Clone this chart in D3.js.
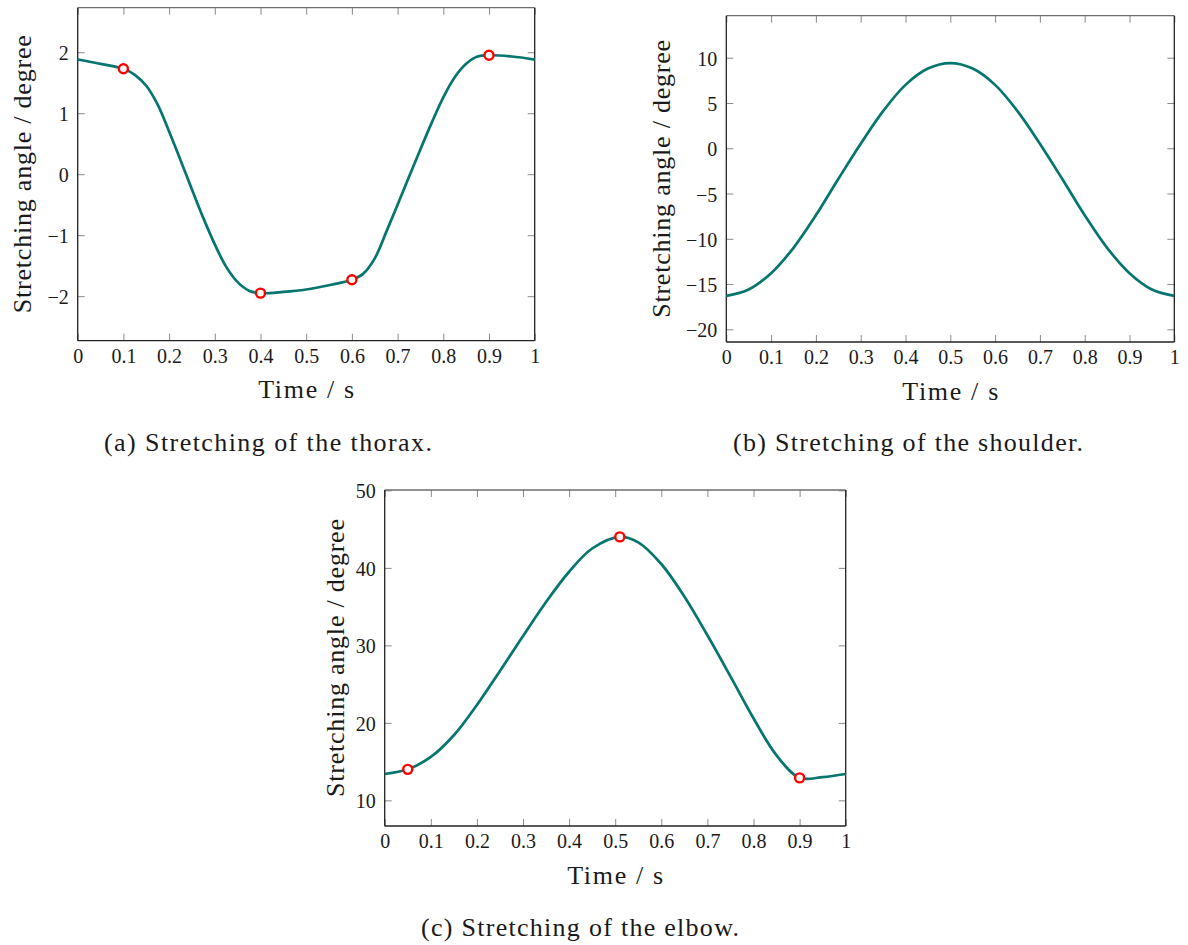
<!DOCTYPE html>
<html>
<head>
<meta charset="utf-8">
<script src="https://cdn.jsdelivr.net/npm/d3@7"></script>
<style>
  html, body { margin: 0; padding: 0; background: #fff; }
  svg { display: block; }
</style>
</head>
<body>
<svg id="chart" width="1188" height="945"></svg>
<script>
// ---------------- data ----------------
const xTickValues = [0, 0.1, 0.2, 0.3, 0.4, 0.5, 0.6, 0.7, 0.8, 0.9, 1];

// (a) thorax
const timeA  = [0, 0.05, 0.1, 0.125, 0.15, 0.175, 0.2, 0.225, 0.25, 0.275, 0.3, 0.325, 0.35, 0.375, 0.4, 0.45, 0.5, 0.55, 0.6, 0.625, 0.65, 0.675, 0.7, 0.725, 0.75, 0.775, 0.8, 0.825, 0.85, 0.875, 0.9, 0.95, 1];
const angleA = [1.88, 1.81, 1.73, 1.63, 1.45, 1.14, 0.70, 0.23, -0.25, -0.72, -1.15, -1.52, -1.77, -1.91, -1.95, -1.93, -1.89, -1.82, -1.73, -1.63, -1.38, -0.95, -0.50, -0.04, 0.41, 0.85, 1.26, 1.59, 1.81, 1.93, 1.95, 1.93, 1.88];
const markTimeA  = [0.1, 0.4, 0.6, 0.9];
const markAngleA = [1.73, -1.95, -1.73, 1.95];
const yTicksA = [-2, -1, 0, 1, 2];

// (b) shoulder
const timeB  = [0, 0.05, 0.1, 0.15, 0.2, 0.25, 0.3, 0.35, 0.4, 0.45, 0.5, 0.55, 0.6, 0.65, 0.7, 0.75, 0.8, 0.85, 0.9, 0.95, 1];
const angleB = [-16.3, -15.6, -13.8, -11.0, -7.4, -3.4, 0.5, 4.1, 7.0, 8.8, 9.4, 8.8, 7.0, 4.1, 0.5, -3.4, -7.4, -11.0, -13.8, -15.6, -16.3];
const yTicksB = [-20, -15, -10, -5, 0, 5, 10];

// (c) elbow
const timeC  = [0, 0.05, 0.1, 0.15, 0.2, 0.25, 0.3, 0.35, 0.4, 0.45, 0.51, 0.55, 0.6, 0.65, 0.7, 0.75, 0.8, 0.85, 0.9, 0.95, 1];
const angleC = [13.4, 14.0, 15.6, 18.4, 22.3, 26.7, 31.2, 35.6, 39.5, 42.5, 44.0, 43.3, 40.5, 36.3, 31.3, 26.0, 20.6, 15.8, 12.9, 13.0, 13.4];
const markTimeC  = [0.05, 0.51, 0.9];
const markAngleC = [14.0, 44.0, 12.9];
const yTicksC = [10, 20, 30, 40, 50];

const xLabel = "Time / s";
const yLabel = "Stretching angle / degree";
const captions = ["(a) Stretching of the thorax.", "(b) Stretching of the shoulder.", "(c) Stretching of the elbow."];

// ---------------- layout ----------------
const FONT = '"Liberation Serif", "DejaVu Serif", serif';
const panels = [
  { t: timeA, v: angleA, mt: markTimeA, mv: markAngleA, yTicks: yTicksA, yDomain: [-2.73, 2.73],
    left: 77.7, right: 534.7, top: 7.7, bottom: 340.7, yLabelX: 30.5, capX: 268, capY: 451, capW: 328, caption: captions[0] },
  { t: timeB, v: angleB, mt: [], mv: [], yTicks: yTicksB, yDomain: [-21.4, 14.64],
    left: 726.3, right: 1174.3, top: 15.7, bottom: 342, yLabelX: 670, capX: 908, capY: 451, capW: 350, caption: captions[1] },
  { t: timeC, v: angleC, mt: markTimeC, mv: markAngleC, yTicks: yTicksC, yDomain: [6.69, 50.05],
    left: 384.7, right: 845.7, top: 490, bottom: 826, yLabelX: 343.5, capX: 580, capY: 936, capW: 318, caption: captions[2] }
];

const svg = d3.select("#chart");
const fmtX = d => (d === 0 ? "0" : d === 1 ? "1" : d.toFixed(1));
const fmtY = d => String(d).replace("-", "\u2212");
const TICK = 7;

panels.forEach(p => {
  const x = d3.scaleLinear().domain([0, 1]).range([p.left, p.right]);
  const y = d3.scaleLinear().domain(p.yDomain).range([p.bottom, p.top]);
  const g = svg.append("g");

  const styleTicks = sel => {
    sel.attr("font-family", null).attr("font-size", null);
    sel.select(".domain").remove();
    sel.selectAll(".tick line").attr("stroke", "#8a8a8a").attr("stroke-width", 1);
  };
  // mirrored inward ticks
  g.append("g").attr("transform", `translate(0,${p.top})`)
    .call(d3.axisTop(x).tickValues(xTickValues).tickSize(-TICK).tickFormat(""))
    .call(styleTicks);
  g.append("g").attr("transform", `translate(${p.right},0)`)
    .call(d3.axisRight(y).tickValues(p.yTicks).tickSize(-TICK).tickFormat(""))
    .call(styleTicks);

  const bx = g.append("g").attr("transform", `translate(0,${p.bottom})`)
    .call(d3.axisBottom(x).tickValues(xTickValues).tickSize(-TICK).tickFormat(fmtX))
    .call(styleTicks);
  bx.selectAll(".tick text")
    .attr("y", 22.3).attr("dy", null)
    .style("font-family", FONT).style("font-size", "20px").attr("fill", "#1a1a1a");

  const ly = g.append("g").attr("transform", `translate(${p.left},0)`)
    .call(d3.axisLeft(y).tickValues(p.yTicks).tickSize(-TICK).tickFormat(fmtY))
    .call(styleTicks);
  ly.selectAll(".tick text")
    .attr("x", -9).attr("dy", "0.38em")
    .style("font-family", FONT).style("font-size", "20px").attr("fill", "#1a1a1a");

  // frame
  const frame = [
    [p.left, p.top, p.right, p.top, "#6e6e6e"],
    [p.left, p.bottom, p.right, p.bottom, "#222"],
    [p.left, p.top, p.left, p.bottom, "#222"],
    [p.right, p.top, p.right, p.bottom, "#222"]
  ];
  frame.forEach(f => g.append("line").attr("x1", f[0]).attr("y1", f[1]).attr("x2", f[2]).attr("y2", f[3])
    .attr("stroke", f[4]).attr("stroke-width", 1.3));

  // curve
  const pts = p.t.map((t, i) => [t, p.v[i]]);
  g.append("path").datum(pts)
    .attr("d", d3.line().x(d => x(d[0])).y(d => y(d[1])).curve(d3.curveCatmullRom.alpha(0.5)))
    .attr("fill", "none").attr("stroke", "#05766f").attr("stroke-width", 2.7)
    .attr("stroke-linejoin", "round");

  // markers
  const mk = p.mt.map((t, i) => [t, p.mv[i]]);
  g.selectAll("circle.mk").data(mk).join("circle").attr("class", "mk")
    .attr("cx", d => x(d[0])).attr("cy", d => y(d[1])).attr("r", 4.5)
    .attr("fill", "#fff").attr("stroke", "#ff0000").attr("stroke-width", 2.4);

  // axis labels
  g.append("text").attr("x", (p.left + p.right) / 2).attr("y", p.bottom + 57.5)
    .attr("text-anchor", "middle").style("font-family", FONT).style("font-size", "26px").attr("fill", "#1a1a1a")
    .attr("textLength", 96).attr("lengthAdjust", "spacing").text(xLabel);
  const cy = (p.top + p.bottom) / 2;
  g.append("text").attr("transform", `translate(${p.yLabelX},${cy}) rotate(-90)`)
    .attr("text-anchor", "middle").style("font-family", FONT).style("font-size", "26px").attr("fill", "#1a1a1a")
    .attr("textLength", 278).attr("lengthAdjust", "spacing").text(yLabel);

  // caption
  g.append("text").attr("x", p.capX).attr("y", p.capY)
    .attr("text-anchor", "middle").style("font-family", FONT).style("font-size", "26px").attr("fill", "#1a1a1a")
    .attr("textLength", p.capW).attr("lengthAdjust", "spacing").text(p.caption);
});
</script>
</body>
</html>
